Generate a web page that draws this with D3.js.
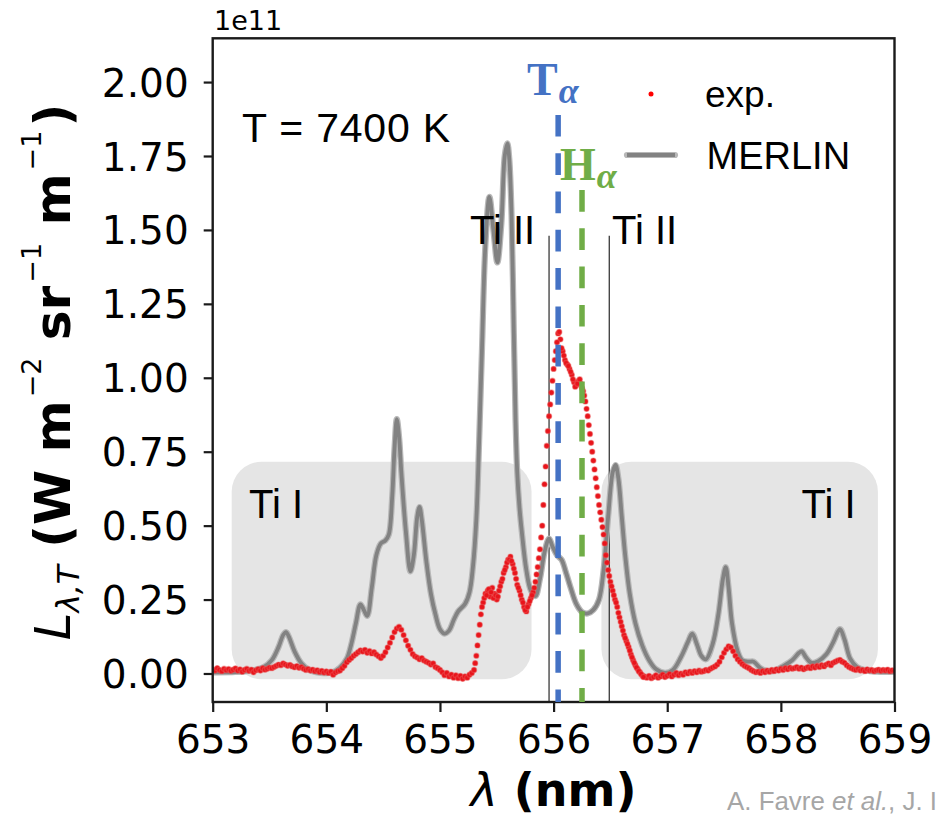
<!DOCTYPE html>
<html>
<head>
<meta charset="utf-8">
<script src="https://cdn.jsdelivr.net/npm/d3@7"></script>
<style>
  html, body { margin: 0; padding: 0; background: #fff; }
  svg { display: block; }
</style>
</head>
<body>
<svg id="chart" width="939" height="820"></svg>
<script>
// Spectral radiance around H-alpha, in units of 1e11 W m^-2 sr^-1 m^-1; wavelength in nm.

const xTicks = [653, 654, 655, 656, 657, 658, 659];
const yTicks = [0, 0.25, 0.5, 0.75, 1.0, 1.25, 1.5, 1.75, 2.0];

// MERLIN synthetic spectrum [wavelength, radiance]
const merlinSpectrum = [
  [653.00,0.004],[653.20,0.005],[653.35,0.010],[653.45,0.022],[653.52,0.045],[653.58,0.090],
  [653.62,0.130],[653.645,0.140],[653.67,0.125],[653.72,0.075],[653.78,0.035],[653.85,0.012],
  [653.95,0.002],[654.05,0.003],[654.12,0.020],[654.18,0.050],[654.22,0.100],[654.26,0.170],
  [654.30,0.234],[654.33,0.215],[654.36,0.195],[654.40,0.290],[654.44,0.400],[654.48,0.440],
  [654.52,0.450],[654.55,0.470],[654.58,0.600],[654.60,0.760],[654.62,0.860],[654.64,0.800],
  [654.66,0.680],[654.70,0.480],[654.74,0.345],[654.77,0.400],[654.80,0.530],[654.82,0.563],
  [654.84,0.520],[654.88,0.380],[654.92,0.270],[654.96,0.200],[655.00,0.150],[655.04,0.135],
  [655.08,0.145],[655.12,0.180],[655.16,0.210],[655.22,0.235],[655.26,0.275],[655.29,0.360],
  [655.32,0.520],[655.345,0.790],[655.37,1.100],[655.40,1.450],[655.435,1.612],[655.47,1.500],
  [655.505,1.390],[655.54,1.520],[655.57,1.750],[655.593,1.793],[655.61,1.740],[655.63,1.550],
  [655.65,1.150],[655.665,0.860],[655.68,0.680],[655.70,0.560],[655.72,0.480],[655.76,0.350],
  [655.80,0.280],[655.84,0.262],[655.88,0.320],[655.92,0.410],[655.96,0.456],[655.99,0.430],
  [656.03,0.400],[656.07,0.385],[656.11,0.340],[656.15,0.290],[656.20,0.235],[656.25,0.208],
  [656.30,0.203],[656.35,0.215],[656.40,0.250],[656.44,0.350],[656.48,0.530],[656.52,0.680],
  [656.545,0.705],[656.57,0.660],[656.60,0.530],[656.63,0.400],[656.67,0.270],[656.72,0.170],
  [656.78,0.095],[656.84,0.045],[656.90,0.015],[656.98,0.002],[657.05,0.012],[657.12,0.055],
  [657.18,0.105],[657.22,0.135],[657.26,0.100],[657.30,0.060],[657.34,0.048],[657.40,0.100],
  [657.45,0.200],[657.49,0.320],[657.515,0.360],[657.54,0.290],[657.57,0.170],[657.62,0.075],
  [657.66,0.045],[657.72,0.040],[657.76,0.040],[657.82,0.018],[657.88,0.008],[657.95,0.010],
  [658.02,0.025],[658.10,0.045],[658.16,0.070],[658.185,0.075],[658.22,0.055],[658.27,0.036],
  [658.33,0.042],[658.40,0.065],[658.46,0.105],[658.52,0.150],[658.56,0.115],[658.61,0.050],
  [658.67,0.022],[658.75,0.010],[658.85,0.006],[659.00,0.005]
];

// Measured spectrum [wavelength, radiance]
const expSpectrum = [
  [653.00,0.014],[653.02,0.010],[653.04,0.018],[653.06,0.012],[653.08,0.008],[653.10,0.016],[653.12,0.011],[653.14,0.015],[653.16,0.009],[653.18,0.013],
  [653.20,0.017],[653.22,0.010],[653.24,0.014],[653.26,0.006],[653.28,0.012],[653.30,0.016],[653.32,0.009],[653.34,0.013],[653.36,0.004],[653.38,0.011],
  [653.40,0.015],[653.42,0.010],[653.44,0.018],[653.46,0.013],[653.48,0.016],[653.50,0.020],
  [653.52,0.018],[653.54,0.022],[653.56,0.026],[653.58,0.030],[653.60,0.028],[653.62,0.034],[653.64,0.030],[653.66,0.026],[653.68,0.029],[653.70,0.024],
  [653.72,0.021],[653.74,0.025],[653.76,0.019],[653.78,0.022],[653.80,0.016],
  [653.82,0.012],[653.84,0.015],[653.86,0.010],[653.88,0.013],[653.90,0.008],[653.92,0.011],[653.94,0.005],[653.96,0.009],[653.98,0.003],[654.00,0.007],
  [654.02,0.002],[654.04,0.006],[654.06,-0.004],[654.08,0.003],[654.10,0.008],
  [654.12,0.010],[654.14,0.018],[654.16,0.026],[654.18,0.038],[654.20,0.046],[654.22,0.052],[654.24,0.060],[654.26,0.066],[654.28,0.072],[654.30,0.078],
  [654.32,0.074],[654.34,0.080],[654.36,0.070],[654.38,0.076],[654.40,0.068],[654.42,0.072],[654.44,0.064],[654.46,0.058],[654.48,0.052],[654.50,0.060],
  [654.52,0.072],[654.54,0.088],[654.56,0.104],[654.58,0.122],[654.60,0.140],[654.62,0.152],[654.64,0.158],[654.66,0.148],[654.68,0.130],[654.70,0.112],
  [654.72,0.094],[654.74,0.080],[654.76,0.066],[654.78,0.058],[654.80,0.054],[654.82,0.048],[654.84,0.052],[654.86,0.044],[654.88,0.040],[654.90,0.036],
  [654.92,0.030],[654.94,0.034],[654.96,0.022],[654.98,0.018],[655.00,0.012],[655.02,0.004],[655.04,-0.006],[655.06,0.002],[655.08,-0.010],[655.10,-0.004],
  [655.12,-0.014],[655.14,-0.006],[655.16,-0.016],[655.18,-0.008],[655.20,-0.018],[655.22,-0.010],[655.24,-0.014],[655.26,-0.004],[655.28,0.002],[655.30,0.012],
  [655.32,0.060],[655.34,0.130],[655.36,0.200],[655.38,0.240],[655.40,0.270],[655.42,0.280],[655.44,0.260],[655.46,0.290],[655.48,0.270],[655.50,0.250],
  [655.52,0.280],[655.54,0.310],[655.56,0.340],[655.58,0.360],[655.60,0.385],[655.62,0.395],[655.64,0.370],[655.66,0.340],[655.68,0.300],[655.70,0.280],
  [655.72,0.250],[655.74,0.225],[655.76,0.210],[655.78,0.235],[655.80,0.255],[655.82,0.275],[655.84,0.310],[655.86,0.360],[655.88,0.420],[655.90,0.500],
  [655.92,0.640],[655.94,0.770],[655.96,0.870],[655.98,0.950],[656.00,1.030],[656.02,1.090],[656.04,1.150],[656.06,1.130],[656.08,1.090],[656.10,1.060],
  [656.12,1.045],[656.14,1.030],[656.16,1.010],[656.18,0.985],[656.20,0.975],[656.22,0.990],[656.24,0.980],[656.26,0.955],[656.28,0.920],[656.30,0.870],
  [656.32,0.810],[656.34,0.750],[656.36,0.690],[656.38,0.630],[656.40,0.570],[656.42,0.520],[656.44,0.470],[656.46,0.400],[656.48,0.350],[656.50,0.310],
  [656.52,0.280],[656.54,0.250],[656.56,0.225],[656.58,0.190],[656.60,0.160],[656.62,0.130],[656.64,0.110],[656.66,0.090],[656.68,0.065],[656.70,0.045],
  [656.72,0.028],[656.74,0.015],[656.76,0.004],[656.78,-0.006],[656.80,-0.010],[656.82,-0.014],[656.84,-0.008],[656.86,-0.016],[656.88,-0.012],[656.90,-0.006],
  [656.92,-0.014],[656.94,-0.010],[656.96,-0.004],[656.98,-0.012],[657.00,-0.008],[657.02,-0.002],[657.04,-0.010],[657.06,-0.004],[657.08,0.002],[657.10,-0.006],
  [657.12,0.000],[657.14,-0.004],[657.16,0.004],[657.18,0.000],[657.20,0.006],[657.22,0.002],[657.24,0.008],[657.26,0.004],[657.28,0.010],[657.30,0.006],
  [657.32,0.008],[657.34,0.012],[657.36,0.010],[657.38,0.016],[657.40,0.020],[657.42,0.024],[657.44,0.030],[657.46,0.040],[657.48,0.055],[657.50,0.070],
  [657.52,0.082],[657.54,0.092],[657.56,0.088],[657.58,0.075],[657.60,0.060],[657.62,0.048],[657.64,0.040],[657.66,0.032],[657.68,0.026],[657.70,0.022],
  [657.72,0.018],[657.74,0.012],[657.76,0.008],[657.78,0.004],[657.80,0.006],[657.82,0.002],[657.84,0.008],[657.86,0.004],[657.88,0.010],[657.90,0.006],
  [657.92,0.012],[657.94,0.008],[657.96,0.014],[657.98,0.010],[658.00,0.016],[658.02,0.012],[658.04,0.018],[658.06,0.014],[658.08,0.020],[658.10,0.016],
  [658.12,0.018],[658.14,0.022],[658.16,0.016],[658.18,0.020],[658.20,0.014],[658.22,0.018],[658.24,0.022],[658.26,0.018],[658.28,0.024],[658.30,0.020],
  [658.32,0.026],[658.34,0.022],[658.36,0.028],[658.38,0.024],[658.40,0.030],[658.42,0.034],[658.44,0.028],[658.46,0.036],[658.48,0.040],[658.50,0.044],
  [658.52,0.046],[658.54,0.040],[658.56,0.036],[658.58,0.028],[658.60,0.022],[658.62,0.018],[658.64,0.014],[658.66,0.012],[658.68,0.016],[658.70,0.010],
  [658.72,0.012],[658.74,0.008],[658.76,0.014],[658.78,0.010],[658.80,0.012],[658.82,0.008],[658.84,0.011],[658.86,0.013],[658.88,0.009],[658.90,0.012],
  [658.92,0.010],[658.94,0.013],[658.96,0.008],[658.98,0.011],[659.00,0.009],
  // finer sampling across the H-alpha feature
  [655.31,0.035],[655.33,0.095],[655.35,0.165],[655.37,0.225],[655.39,0.255],[655.41,0.265],[655.43,0.285],[655.45,0.275],[655.47,0.255],[655.49,0.265],
  [655.51,0.260],[655.53,0.295],[655.55,0.320],[655.57,0.350],[655.59,0.375],[655.61,0.385],[655.63,0.380],[655.65,0.355],[655.67,0.320],[655.69,0.290],
  [655.71,0.265],[655.73,0.240],[655.75,0.215],[655.77,0.225],[655.79,0.245],[655.81,0.265],[655.83,0.290],[655.85,0.335],[655.87,0.390],[655.89,0.460],
  [655.91,0.570],[655.93,0.700],[655.95,0.820],[655.97,0.910],[655.99,0.990],[656.01,1.060],[656.03,1.120],[656.05,1.155],[656.07,1.100],[656.09,1.075],
  [656.11,1.050],[656.13,1.040],[656.15,1.020],[656.17,0.995],[656.19,0.970],[656.21,0.980],[656.23,0.995],[656.25,0.965],[656.27,0.940],[656.29,0.895],
  [656.31,0.840],[656.33,0.780],[656.35,0.720],[656.37,0.660],[656.39,0.600],[656.41,0.545],[656.43,0.495],[656.45,0.440],[656.47,0.375],[656.49,0.330],
  [656.51,0.295],[656.53,0.265],[656.55,0.240],[656.57,0.205],[656.59,0.175],[656.61,0.145],[656.63,0.120],[656.65,0.100],[656.67,0.078],[656.69,0.055],
  [656.71,0.036],[656.73,0.020],[656.75,0.008],[656.77,-0.002],[656.79,-0.012]
];

// Line identifications
const tiIILines = [655.96, 656.49];
const tiIILineTop = 1.48;
const tAlphaLine = 656.04;
const hAlphaLine = 656.25;
const tAlphaTop = 1.889;
const hAlphaTop = 1.635;
// Ti I regions [start, end] in nm, shaded from low to high radiance
const tiIRegions = [[653.167, 655.806], [656.421, 658.854]];
const tiIRegionRange = [-0.0196, 0.716];

const svg = d3.select("#chart");
const plot = { left: 212.7, right: 894.5, top: 38.3, bottom: 702 };

const x = d3.scaleLinear().domain([653, 659]).range([plot.left, plot.right]);
const y = d3.scaleLinear().domain([-0.0964, 2.148]).range([plot.bottom, plot.top]);

svg.append("defs").append("clipPath").attr("id", "plotClip")
  .append("rect")
  .attr("x", plot.left).attr("y", plot.top)
  .attr("width", plot.right - plot.left).attr("height", plot.bottom - plot.top);

// Shaded Ti I regions
svg.append("g").selectAll("rect").data(tiIRegions).join("rect")
  .attr("x", d => x(d[0]))
  .attr("width", d => x(d[1]) - x(d[0]))
  .attr("y", y(tiIRegionRange[1]))
  .attr("height", y(tiIRegionRange[0]) - y(tiIRegionRange[1]))
  .attr("rx", 30).attr("ry", 30)
  .attr("fill", "#e5e5e5");

const data = svg.append("g").attr("clip-path", "url(#plotClip)");

// Ti II markers
data.selectAll("line.tiII").data(tiIILines).join("line")
  .attr("class", "tiII")
  .attr("x1", d => x(d)).attr("x2", d => x(d))
  .attr("y1", y(tiIILineTop)).attr("y2", plot.bottom)
  .attr("stroke", "#3a3a3a").attr("stroke-width", 1.3);

// MERLIN curve
const line = d3.line()
  .x(d => x(d[0])).y(d => y(d[1]))
  .curve(d3.curveCatmullRom.alpha(0.5));
data.append("path").datum(merlinSpectrum)
  .attr("d", line)
  .attr("fill", "none")
  .attr("stroke", "#b8b8b8").attr("stroke-width", 6.2)
  .attr("stroke-linejoin", "round");
data.append("path").datum(merlinSpectrum)
  .attr("d", line)
  .attr("fill", "none")
  .attr("stroke", "#828282").attr("stroke-width", 3.8)
  .attr("stroke-linejoin", "round");

// Experimental points
data.append("g").selectAll("circle").data(expSpectrum).join("circle")
  .attr("cx", d => x(d[0])).attr("cy", d => y(d[1]))
  .attr("r", 2.6)
  .attr("fill", "#e8141b")
  .attr("stroke", "rgba(235,90,90,0.45)").attr("stroke-width", 1.2);

// Frame
svg.append("rect")
  .attr("x", plot.left).attr("y", plot.top)
  .attr("width", plot.right - plot.left).attr("height", plot.bottom - plot.top)
  .attr("fill", "none").attr("stroke", "#1a1a1a").attr("stroke-width", 2.4);

// Axes
const gx = svg.append("g").attr("transform", `translate(0,${plot.bottom})`)
  .call(d3.axisBottom(x).tickValues(xTicks).tickFormat(d3.format("d")).tickSize(10).tickPadding(13));
const gy = svg.append("g").attr("transform", `translate(${plot.left},0)`)
  .call(d3.axisLeft(y).tickValues(yTicks).tickFormat(d3.format(".2f")).tickSize(9).tickPadding(15));
[gx, gy].forEach(g => {
  g.select(".domain").remove();
  g.selectAll(".tick line").attr("stroke", "#1a1a1a").attr("stroke-width", 2.2);
  g.selectAll(".tick text")
    .attr("font-family", "DejaVu Sans").attr("font-size", 39).attr("fill", "#000");
});
gy.selectAll(".tick text").attr("dy", "0.36em");

// Offset text
svg.append("text").attr("x", 214).attr("y", 30)
  .attr("font-family", "DejaVu Sans").attr("font-size", 27).attr("fill", "#000")
  .text("1e11");

// Axis titles
const xl = svg.append("text")
  .attr("x", (plot.left + plot.right) / 2).attr("y", 806)
  .attr("text-anchor", "middle")
  .attr("font-family", "DejaVu Sans").attr("font-size", 46).attr("fill", "#000");
xl.append("tspan").attr("font-style", "italic").text("λ");
xl.append("tspan").attr("font-weight", "bold").text(" (nm)");

const yl = svg.append("text")
  .attr("transform", "translate(70,372) rotate(-90)")
  .attr("text-anchor", "middle")
  .attr("font-family", "DejaVu Sans").attr("font-size", 50).attr("fill", "#000");
yl.append("tspan").attr("font-style", "italic").text("L");
yl.append("tspan").attr("font-style", "italic").attr("font-size", 31).attr("dy", 9).text("λ,T");
yl.append("tspan").attr("font-weight", "bold").attr("dy", -9).text(" (W m");
yl.append("tspan").attr("font-size", 27).attr("dy", -29).attr("dx", 3).text("−2");
yl.append("tspan").attr("font-weight", "bold").attr("dy", 29).text(" sr");
yl.append("tspan").attr("font-size", 27).attr("dy", -29).attr("dx", 3).text("−1");
yl.append("tspan").attr("font-weight", "bold").attr("dy", 29).text(" m");
yl.append("tspan").attr("font-size", 27).attr("dy", -29).attr("dx", 3).text("−1");
yl.append("tspan").attr("font-weight", "bold").attr("dy", 29).attr("dx", 4).text(")");

// Temperature annotation
svg.append("text").attr("x", 242).attr("y", 142)
  .attr("font-family", "Liberation Sans").attr("font-size", 41).attr("fill", "#000")
  .attr("textLength", 208).attr("lengthAdjust", "spacing")
  .text("T = 7400 K");

// Ti labels
const sans = "Liberation Sans";
[[470, 243.5, "Ti II"], [612, 243.5, "Ti II"], [249, 517.5, "Ti I"], [801.5, 517.5, "Ti I"]]
  .forEach(([px, py, t]) => {
    svg.append("text").attr("x", px).attr("y", py)
      .attr("font-family", sans).attr("font-size", 40).attr("fill", "#000").text(t);
  });

// Dashed T-alpha / H-alpha markers
const dashed = svg.append("g").attr("clip-path", "url(#plotClip)");
[[tAlphaLine, tAlphaTop, "#4472c4"], [hAlphaLine, hAlphaTop, "#70ad47"]].forEach(([l, top, c]) => {
  dashed.append("line")
    .attr("x1", x(l)).attr("x2", x(l))
    .attr("y1", y(top)).attr("y2", plot.bottom)
    .attr("stroke", c).attr("stroke-width", 5.5)
    .attr("stroke-dasharray", "21.7,16.6");
});

function lineLabel(px, py, main, color) {
  const t = svg.append("text").attr("x", px).attr("y", py)
    .attr("font-family", "Liberation Serif").attr("font-weight", "bold")
    .attr("font-size", 46).attr("fill", color);
  t.append("tspan").text(main);
  t.append("tspan").attr("font-style", "italic").attr("font-size", 36).attr("dy", 8).attr("dx", 1).text("α");
}
lineLabel(527, 95, "T", "#4472c4");
lineLabel(560, 180, "H", "#70ad47");

// Legend
svg.append("circle").attr("cx", 651).attr("cy", 94).attr("r", 2.5).attr("fill", "#ff0000");
svg.append("text").attr("x", 705).attr("y", 106.5)
  .attr("font-family", sans).attr("font-size", 37).attr("fill", "#000").text("exp.");
svg.append("line").attr("x1", 627).attr("x2", 675).attr("y1", 155).attr("y2", 155)
  .attr("stroke", "#b8b8b8").attr("stroke-width", 6.2).attr("stroke-linecap", "round");
svg.append("line").attr("x1", 627).attr("x2", 675).attr("y1", 155).attr("y2", 155)
  .attr("stroke", "#828282").attr("stroke-width", 3.8);
svg.append("text").attr("x", 706.5).attr("y", 168.5)
  .attr("font-family", sans).attr("font-size", 38).attr("fill", "#000").text("MERLIN");

// Source credit
const credit = svg.append("text").attr("x", 727).attr("y", 810)
  .attr("font-family", sans).attr("font-size", 26).attr("fill", "#a6a6a6")
  .attr("textLength", 210).attr("lengthAdjust", "spacingAndGlyphs");
credit.append("tspan").text("A. Favre ");
credit.append("tspan").attr("font-style", "italic").text("et al.");
credit.append("tspan").text(", J. I");
</script>
</body>
</html>
